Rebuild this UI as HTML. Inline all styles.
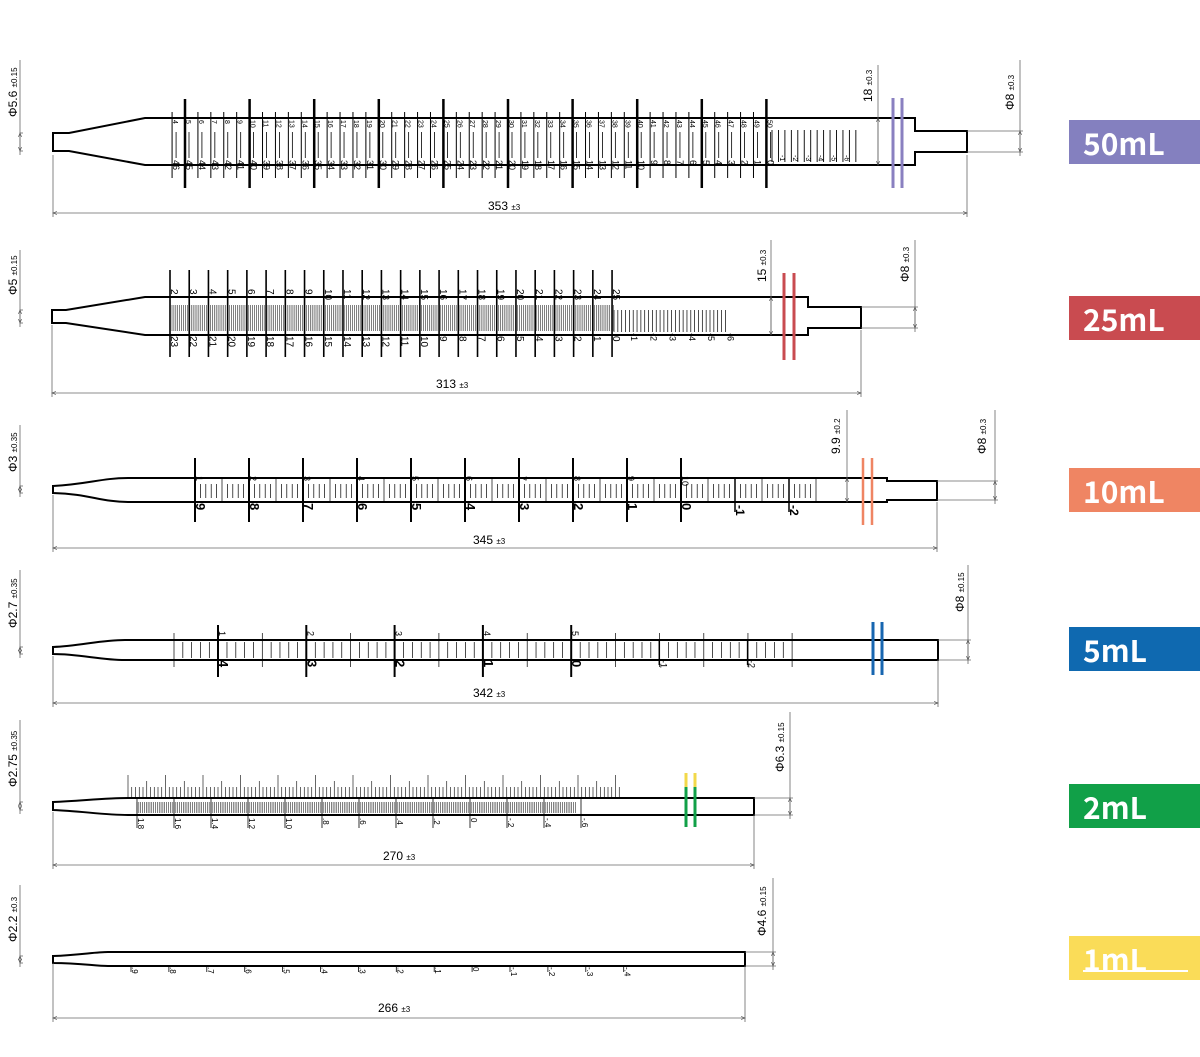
<!DOCTYPE html>
<html><head><meta charset="utf-8"><style>
body{margin:0;background:#fff;width:1200px;height:1057px;overflow:hidden;position:relative;font-family:"Liberation Sans",sans-serif}
svg{position:absolute;left:0;top:0}
.lb{position:absolute;left:1069px;width:131px;height:44px;color:#fff;font:bold 30px "Noto Sans CJK SC","Liberation Sans",sans-serif;line-height:44px;padding-left:14px;box-sizing:border-box}
</style></head><body>
<svg id="s" width="1200" height="1057" font-family="Liberation Sans, sans-serif">
<defs><marker id="a" markerWidth="6" markerHeight="6" refX="5" refY="3" orient="auto-start-reverse"><path d="M0,1 L5,3 L0,5" fill="none" stroke="#555" stroke-width="0.8"/></marker></defs>
<g fill="none" stroke="#000" stroke-width="2">
<path d="M53,133 L69,133 L145,118 L915,118 L915,131 L967,131 L967,152 L915,152 L915,165 L145,165 L69,151 L53,151 Z"/>
<path d="M52,310 L66,310 L145,297 L808,297 L808,307 L861,307 L861,328 L808,328 L808,335 L145,335 L66,323 L52,323 Z"/>
<path d="M53,486 C90,484 100,478 130,478 L887,478 L887,481 L937,481 L937,500 L887,500 L887,502 L130,502 C100,502 90,494 53,493 Z"/>
<path d="M53,647 C80,646 100,640 125,640 L938,640 L938,660 L125,660 C100,660 80,654 53,654 Z"/>
<path d="M53,802 C80,801 105,798 128,798 L754,798 L754,815 L128,815 C105,815 80,811 53,810 Z"/>
<path d="M53,956 C80,955 95,952 108,952 L745,952 L745,966 L108,966 C95,966 80,963 53,963 Z"/>
</g>
<g stroke="#8a80c0" stroke-width="3"><line x1="893" y1="98" x2="893" y2="188"/><line x1="902" y1="98" x2="902" y2="188"/></g>
<g stroke="#c94b50" stroke-width="3"><line x1="784" y1="273" x2="784" y2="360"/><line x1="794" y1="273" x2="794" y2="360"/></g>
<g stroke="#ef8563" stroke-width="2.5"><line x1="863" y1="458" x2="863" y2="525"/><line x1="872" y1="458" x2="872" y2="525"/></g>
<g stroke="#1766b0" stroke-width="3"><line x1="873" y1="622" x2="873" y2="675"/><line x1="882" y1="622" x2="882" y2="675"/></g>
<g stroke-width="3"><line x1="686" y1="773" x2="686" y2="787" stroke="#f2d84a"/><line x1="695" y1="773" x2="695" y2="787" stroke="#f2d84a"/><line x1="686" y1="787" x2="686" y2="827" stroke="#11a048"/><line x1="695" y1="787" x2="695" y2="827" stroke="#11a048"/></g>
<g id="dims" stroke="#666" stroke-width="0.8" fill="none"></g>
<g id="g" ></g>
<g font-size="12" fill="#000">
<text x="17" y="117" transform="rotate(-90 17 117)">Φ5.6 <tspan font-size="8">±0.15</tspan></text>
<text x="872" y="102" transform="rotate(-90 872 102)">18 <tspan font-size="8">±0.3</tspan></text>
<text x="1014" y="110" transform="rotate(-90 1014 110)">Φ8 <tspan font-size="8">±0.3</tspan></text>
<text x="488" y="210">353 <tspan font-size="8">±3</tspan></text>
<text x="17" y="295" transform="rotate(-90 17 295)">Φ5 <tspan font-size="8">±0.15</tspan></text>
<text x="766" y="282" transform="rotate(-90 766 282)">15 <tspan font-size="8">±0.3</tspan></text>
<text x="909" y="282" transform="rotate(-90 909 282)">Φ8 <tspan font-size="8">±0.3</tspan></text>
<text x="436" y="388">313 <tspan font-size="8">±3</tspan></text>
<text x="17" y="472" transform="rotate(-90 17 472)">Φ3 <tspan font-size="8">±0.35</tspan></text>
<text x="840" y="454" transform="rotate(-90 840 454)">9.9 <tspan font-size="8">±0.2</tspan></text>
<text x="986" y="454" transform="rotate(-90 986 454)">Φ8 <tspan font-size="8">±0.3</tspan></text>
<text x="473" y="544">345 <tspan font-size="8">±3</tspan></text>
<text x="17" y="628" transform="rotate(-90 17 628)">Φ2.7 <tspan font-size="8">±0.35</tspan></text>
<text x="964" y="612" transform="rotate(-90 964 612)">Φ8 <tspan font-size="8">±0.15</tspan></text>
<text x="473" y="697">342 <tspan font-size="8">±3</tspan></text>
<text x="17" y="787" transform="rotate(-90 17 787)">Φ2.75 <tspan font-size="8">±0.35</tspan></text>
<text x="784" y="772" transform="rotate(-90 784 772)">Φ6.3 <tspan font-size="8">±0.15</tspan></text>
<text x="383" y="860">270 <tspan font-size="8">±3</tspan></text>
<text x="17" y="942" transform="rotate(-90 17 942)">Φ2.2 <tspan font-size="8">±0.3</tspan></text>
<text x="766" y="936" transform="rotate(-90 766 936)">Φ4.6 <tspan font-size="8">±0.15</tspan></text>
<text x="378" y="1012">266 <tspan font-size="8">±3</tspan></text>
</g>
</svg>
<div class="lb" style="top:120px;background:#8480bf">50mL</div>
<div class="lb" style="top:296px;background:#c94b50">25mL</div>
<div class="lb" style="top:468px;background:#ef8563">10mL</div>
<div class="lb" style="top:627px;background:#0f69b0">5mL</div>
<div class="lb" style="top:784px;background:#11a048">2mL</div>
<div class="lb" style="top:936px;background:#fadc58">1mL<span style="position:absolute;left:14px;right:12px;top:34px;height:2px;background:#fff"></span></div>
<script>
let h='',d='';
function L(x1,y1,x2,y2,w,c){h+=`<line x1="${x1}" y1="${y1}" x2="${x2}" y2="${y2}" stroke="${c||'#000'}" stroke-width="${w||1}"/>`}
function T(x,y,s,sz,fw){h+=`<text x="${x}" y="${y}" font-size="${sz}" font-weight="${fw||'normal'}" transform="rotate(90 ${x} ${y})">${s}</text>`}
function D(x1,y1,x2,y2,ar){d+=`<line x1="${x1}" y1="${y1}" x2="${x2}" y2="${y2}"${ar?' marker-start="url(#a)" marker-end="url(#a)"':''}/>`}
function dim(x1,x2,y,top1,top2){D(x1,top1,x1,y+4);D(x2,top2,x2,y+4);D(x1,y,x2,y,1)}
function vd(x,y0,ya,yb,x0){D(x,y0,x,yb+4);D(x,ya,x,yb,1);D(x0,ya,x+3,ya);D(x0,yb,x+3,yb)}
// 50mL
for(let v=4;v<=50;v++){let x=185+12.92*(v-5);if(v%5==0)L(x,99,x,188,2.5);else L(x,112,x,178,1);L(x+4,132,x+4,158,0.8);T(x+1,120,v,7);T(x+1,160,50-v,9)}
for(let k=0;k<=13;k++){let x=772+k*6.45;L(x,130,x,162,0.9)}
for(let n=1;n<=6;n++)T(766+n*12.92+1,155,'-'+n,7);
dim(53,967,213,155,155);vd(20,60,133,151,20);D(878,65,878,165);D(878,118,878,165,1);vd(1020,60,131,152,967);
// 25mL
for(let x=172;x<=614;x+=1.92)L(x,305,x,331,0.5);
for(let v=2;v<=25;v++){let x=170+19.22*(v-2);L(x,270,x,357,1.6);T(x+1,289,v,10);T(x+1,336,25-v,10)}
for(let x=614;x<=728;x+=3.84)L(x,310,x,332,0.7);
for(let n=1;n<=6;n++)T(614+n*19.22-2,333,'-'+n,9);
dim(52,861,393,325,330);vd(20,250,310,323,20);D(771,240,771,335,0);D(771,297,771,335,1);vd(915,240,307,328,861);
// 10mL
for(let i=0;i<=115;i++){let x=195+5.4*i;let y1=i%5==0?478:484;L(x,y1,x,i%5==0?502:498,0.7)}
for(let v=1;v<=10;v++){let x=195+54*(v-1);L(x,458,x,522,2);T(x+1,476,v,9);T(x+1,503,10-v,13,'bold')}
for(let n=1;n<=2;n++){let x=681+54*n;L(x,478,x,512,1.5);T(x+1,505,'-'+n,12,'bold')}
dim(53,937,548,495,502);vd(20,425,486,493,20);D(847,410,847,502);D(847,478,847,502,1);vd(995,410,481,500,937);
// 5mL
for(let i=0;i<=70;i++){let x=174+8.83*i;let m=Math.abs(Math.round((x-218)/44.15)*44.15-(x-218))<1;L(x,m?633:642,x,m?667:658,0.7)}
for(let v=1;v<=5;v++){let x=218+88.3*(v-1);L(x,625,x,677,2);T(x+1,631,v,9);T(x+1,660,5-v,13,'bold')}
for(let n=1;n<=2;n++){let x=571+88.3*n;L(x,640,x,665,1.5);T(x+1,660,'-'+n,9)}
dim(53,938,703,656,660);vd(20,570,647,654,20);vd(968,565,640,660,938);
// 2mL
for(let x=137;x<=576;x+=1.85)L(x,802,x,813,0.5);
for(let i=0;i*3.75<=492;i++){let x=128+3.75*i;let y=i%10==0?775:(i%5==0?781:787);L(x,y,x,798,0.6)}
const lab2=['1.8','1.6','1.4','1.2','1.0','.8','.6','.4','.2','0','-.2','-.4','-.6'];
lab2.forEach((s,k)=>{let x=137+37*k;L(x,798,x,828,0.8);T(x+1,818,s,8)});
dim(53,754,865,812,815);vd(20,720,802,810,20);vd(790,712,798,815,754);
// 1mL
const lab1=['.9','.8','.7','.6','.5','.4','.3','.2','.1','0','-.1','-.2','-.3','-.4'];
lab1.forEach((s,k)=>{let x=131+37.9*k;L(x,966,x,972,0.8);T(x+1,967,s,8)});
dim(53,745,1018,963,966);vd(20,885,956,963,20);vd(773,878,952,966,745);
document.getElementById('g').innerHTML=h;document.getElementById('dims').innerHTML=d;
</script>
</body></html>
